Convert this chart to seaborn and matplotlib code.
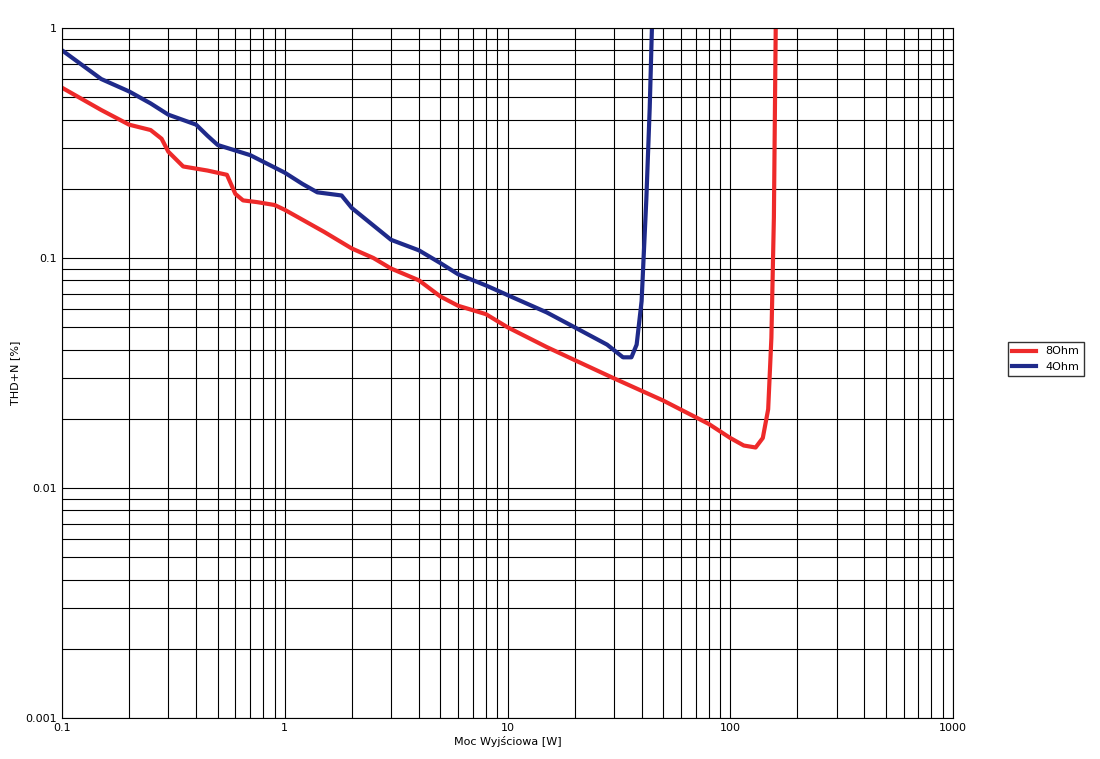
import matplotlib
matplotlib.use("Agg")
import matplotlib.pyplot as plt
import seaborn as sns
import pandas as pd
from matplotlib.ticker import LogLocator, FixedLocator, FixedFormatter, NullFormatter

red_x = [0.1, 0.15, 0.2, 0.25, 0.28, 0.3, 0.35, 0.45, 0.55, 0.6, 0.65, 0.75, 0.9, 1.0, 1.5, 2.0, 2.5, 3.0, 4.0, 5.0, 6.0, 8.0, 10, 15, 20, 30, 50, 80, 100, 115, 130, 140, 148, 153, 157, 160]
red_y = [0.55, 0.44, 0.38, 0.36, 0.33, 0.29, 0.25, 0.24, 0.23, 0.19, 0.178, 0.175, 0.17, 0.162, 0.13, 0.11, 0.1, 0.09, 0.08, 0.068, 0.062, 0.057, 0.05, 0.041, 0.036, 0.03, 0.024, 0.019, 0.0165, 0.0153, 0.015, 0.0165, 0.022, 0.045, 0.15, 1.0]
blue_x = [0.1, 0.15, 0.2, 0.25, 0.3, 0.4, 0.45, 0.5, 0.7, 1.0, 1.2, 1.4, 1.8, 2.0, 3.0, 4.0, 5.0, 6.0, 8.0, 10, 15, 20, 28, 33, 36, 38, 40, 42, 43.5, 44.5]
blue_y = [0.8, 0.6, 0.53, 0.47, 0.42, 0.38, 0.34, 0.31, 0.28, 0.235, 0.21, 0.193, 0.187, 0.165, 0.12, 0.108, 0.095, 0.085, 0.076, 0.069, 0.058, 0.05, 0.042, 0.037, 0.037, 0.042, 0.065, 0.18, 0.45, 1.0]

df = pd.concat([
    pd.DataFrame({"x": red_x, "y": red_y, "s": "8Ohm"}),
    pd.DataFrame({"x": blue_x, "y": blue_y, "s": "4Ohm"}),
])

fig = plt.figure(figsize=(11, 7.59), dpi=100)
ax = fig.add_axes([62/1100, 1-718/759, (953-62)/1100, (718-28)/759])
sns.lineplot(data=df, x="x", y="y", hue="s", palette={"8Ohm": "#ee2a2a", "4Ohm": "#1f2a8a"},
             linewidth=3, sort=False, estimator=None, ax=ax)
ax.set_xscale("log"); ax.set_yscale("log")
ax.set_xlim(0.1, 1000); ax.set_ylim(0.001, 1)
ax.xaxis.set_major_locator(FixedLocator([0.1, 1, 10, 100, 1000]))
ax.xaxis.set_major_formatter(FixedFormatter(["0.1", "1", "10", "100", "1000"]))
ax.yaxis.set_major_locator(FixedLocator([0.001, 0.01, 0.1, 1]))
ax.yaxis.set_major_formatter(FixedFormatter(["0.001", "0.01", "0.1", "1"]))
for a in (ax.xaxis, ax.yaxis):
    a.set_minor_locator(LogLocator(base=10, subs=range(2, 10)))
    a.set_minor_formatter(NullFormatter())
ax.grid(True, which="both", color="black", linewidth=0.8)
ax.tick_params(which="both", length=0, labelsize=8)
for s in ax.spines.values():
    s.set_color("black"); s.set_linewidth(0.8)
ax.set_xlabel("Moc Wyjściowa [W]", fontsize=8, labelpad=2)
ax.set_ylabel("THD+N [%]", fontsize=8, labelpad=4)
ax.legend(title=None, loc="center left", bbox_to_anchor=(1.055, 0.52), fontsize=8,
          frameon=True, fancybox=False, edgecolor="black", handlelength=2.2)
fig.savefig("out.png", dpi=100)
